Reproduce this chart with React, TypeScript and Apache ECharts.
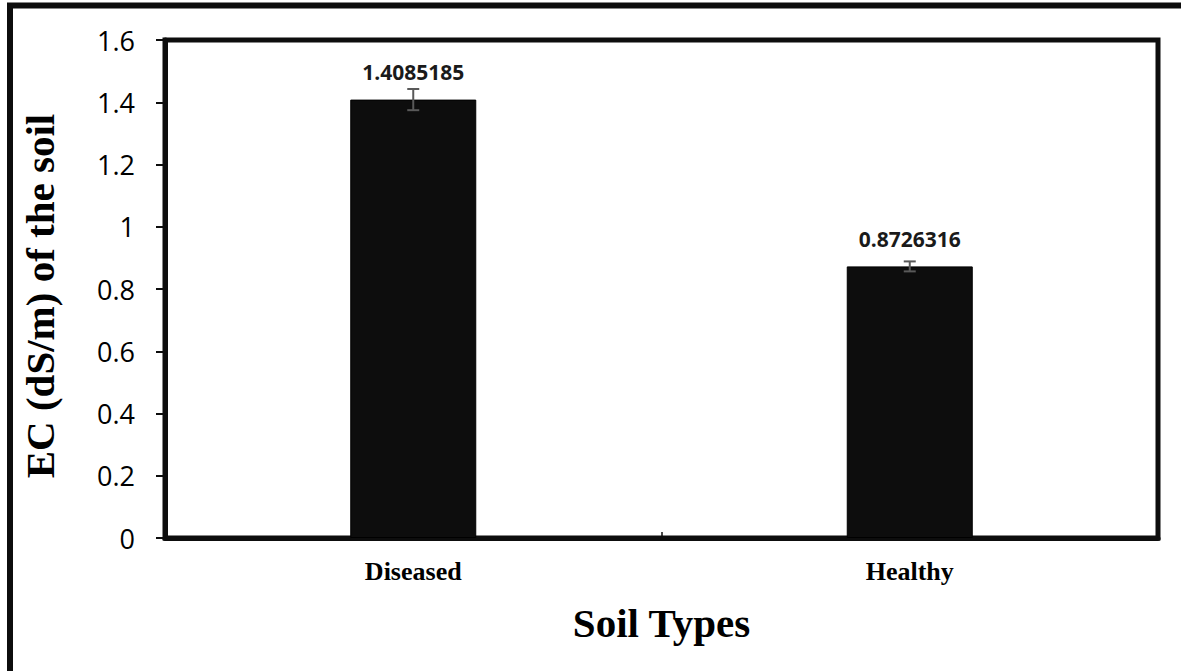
import React, { useEffect, useRef } from "react";
import * as echarts from "echarts";

const categories = ["Diseased", "Healthy"];
const values = [1.4085185, 0.8726316];
const errors = [0.034, 0.016];
const yTicks = { min: 0, max: 1.6, interval: 0.2 };
const xTitle = "Soil Types";
const yTitle = "EC (dS/m) of the soil";

export default function App() {
  const ref = useRef<HTMLDivElement>(null);
  useEffect(() => {
    if (!ref.current) return;
    const chart = echarts.init(ref.current, undefined, { renderer: "svg" });
    const errData = values.map((v, i) => [i, v - errors[i], v + errors[i]]);
    chart.setOption({
      animation: false,
      backgroundColor: "#ffffff",
      grid: {
        left: 165,
        top: 40,
        right: 23,
        bottom: 133,
        show: true,
        borderColor: "#0d0d0d",
        borderWidth: 5,
        containLabel: false,
      },
      graphic: [
        {
          type: "rect",
          shape: { x: 10, y: 5.5, width: 1400, height: 900 },
          style: { fill: "none", stroke: "#0d0d0d", lineWidth: 6 },
          silent: true,
        },
        {
          type: "text",
          x: 40,
          y: 296,
          rotation: Math.PI / 2,
          style: {
            text: yTitle,
            font: "bold 41px 'Liberation Serif'",
            fill: "#000000",
            align: "center",
            verticalAlign: "middle",
          },
        },
      ],
      xAxis: {
        type: "category",
        data: categories,
        name: xTitle,
        nameLocation: "middle",
        nameGap: 64,
        nameTextStyle: {
          fontFamily: "Liberation Serif",
          fontWeight: "bold",
          fontSize: 41,
          color: "#000000",
        },
        axisLine: { show: true, lineStyle: { color: "#0d0d0d", width: 5 } },
        axisTick: { show: true, inside: true, length: 6, lineStyle: { color: "#0d0d0d", width: 1.5 } },
        axisLabel: {
          fontFamily: "Liberation Serif",
          fontWeight: "bold",
          fontSize: 26,
          color: "#000000",
          margin: 20,
        },
        splitLine: { show: false },
      },
      yAxis: {
        type: "value",
        min: yTicks.min,
        max: yTicks.max,
        interval: yTicks.interval,
        axisLine: { show: true, lineStyle: { color: "#0d0d0d", width: 5 } },
        axisTick: { show: true, length: 9, lineStyle: { color: "#0d0d0d", width: 2 } },
        axisLabel: {
          fontFamily: "Open Sans",
          fontSize: 27,
          color: "#000000",
          margin: 30,
          formatter: (v: number) => String(Math.round(v * 10) / 10),
        },
        splitLine: { show: false },
      },
      series: [
        {
          type: "bar",
          data: values,
          barWidth: 126,
          itemStyle: { color: "#0d0d0d", borderColor: "#000000", borderWidth: 1 },
          label: {
            show: true,
            position: "top",
            distance: 17,
            fontFamily: "Open Sans",
            fontWeight: "bold",
            fontSize: 21,
            color: "#1a1a1a",
            formatter: (p: any) => String(p.value),
          },
          z: 2,
        },
        {
          type: "custom",
          data: errData,
          z: 5,
          renderItem: (params: any, api: any) => {
            const x = api.value(0);
            const lo = api.coord([x, api.value(1)]);
            const hi = api.coord([x, api.value(2)]);
            const hw = 6;
            const style = { stroke: "#595959", lineWidth: 2 };
            return {
              type: "group",
              children: [
                { type: "line", shape: { x1: lo[0], y1: lo[1], x2: hi[0], y2: hi[1] }, style },
                { type: "line", shape: { x1: hi[0] - hw, y1: hi[1], x2: hi[0] + hw, y2: hi[1] }, style },
                { type: "line", shape: { x1: lo[0] - hw, y1: lo[1], x2: lo[0] + hw, y2: lo[1] }, style },
              ],
            };
          },
        },
      ],
    });
    return () => chart.dispose();
  }, []);
  return (
    <div
      ref={ref}
      style={{ position: "fixed", left: 0, top: 0, width: 1181, height: 671 }}
    />
  );
}
